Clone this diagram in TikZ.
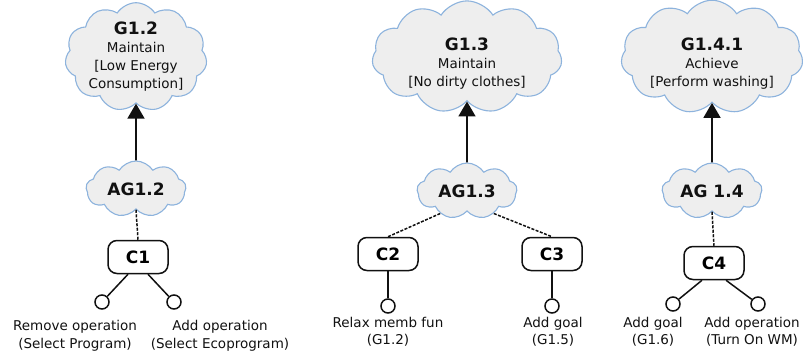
\documentclass[tikz,border=0pt]{standalone}
\usepackage{fontspec}
\setmainfont{DejaVu Sans}
\usepackage{xcolor}
\usepackage{tikz}
\usetikzlibrary{arrows.meta,shapes.symbols}
\definecolor{cloudfill}{HTML}{EEEEEE}
\definecolor{cloudline}{HTML}{8DB3DD}
\definecolor{ink}{HTML}{111111}
\tikzset{
  goal/.style={cloud, cloud puffs=11, cloud puff arc=115, cloud ignores aspect,
    fill=cloudfill, draw=cloudline, line width=1.1pt, align=center, inner sep=0pt,
    text=ink, font=\fontsize{13.5}{18}\selectfont},
  agent/.style={goal, cloud puffs=9, minimum width=100pt, minimum height=56pt,
    font=\fontsize{17}{19}\bfseries},
  ctx/.style={draw=ink, rounded corners=9pt, line width=1.5pt, minimum width=60pt,
    minimum height=33pt, font=\fontsize{17}{19}\bfseries},
  leaf/.style={circle, draw=ink, line width=1.5pt, fill=white, minimum size=14pt, inner sep=0pt},
  lbl/.style={align=center, text=ink, font=\fontsize{13.5}{17.5}\selectfont},
  up/.style={-{Triangle[length=15pt,width=17pt]}, line width=1.8pt, draw=ink},
  link/.style={dash pattern=on 3pt off 1.5pt, line width=1.5pt, draw=ink},
  wire/.style={line width=1.5pt, draw=ink}
}
\newcommand{\gl}[2][25pt]{{\fontsize{17}{20}\bfseries\rule{0pt}{#1}#2}\\}

\begin{document}
\begin{tikzpicture}[x=1pt,y=-1pt]
  \useasboundingbox (0,0) rectangle (803,353);

  % goals
  \node[goal, minimum width=142pt, minimum height=100pt, inner sep=-2pt] (g12) at (136,57)
    {\gl[0pt]{G1.2}Maintain\\{[Low Energy}\\Consumption]};
  \node[goal, minimum width=190pt, minimum height=100pt] (g13) at (467,57)
    {\gl{G1.3}Maintain\\{[No dirty clothes]}};
  \node[goal, minimum width=182pt, minimum height=106pt] (g141) at (712,57)
    {\gl{G1.4.1}Achieve\\{[Perform washing]}};

  % agents
  \node[agent] (ag12) at (136,189) {AG1.2};
  \node[agent] (ag13) at (467,191) {AG1.3};
  \node[agent] (ag14) at (712,191) {AG 1.4};

  \draw[up] (ag12.north) -- (g12.south);
  \draw[up] (ag13.north) -- (g13.south);
  \draw[up] (ag14.north) -- (g141.south);

  % contributions
  \node[ctx] (c1) at (138,257) {C1};
  \node[ctx] (c2) at (388,254) {C2};
  \node[ctx] (c3) at (552,254) {C3};
  \node[ctx] (c4) at (714,263) {C4};

  \draw[link] (ag12.south) -- (c1.north);
  \draw[link] (ag13.220) -- (c2.north);
  \draw[link] (ag13.-40) -- (c3.north);
  \draw[link] (ag14.south) -- (c4.north);

  % operations
  \node[leaf] (o1) at (102,302) {};
  \node[leaf] (o2) at (174,302) {};
  \node[leaf] (o3) at (388,306) {};
  \node[leaf] (o4) at (552,306) {};
  \node[leaf] (o5) at (673,304) {};
  \node[leaf] (o6) at (758,304) {};

  \draw[wire] (c1.south) ++(-10,0) coordinate (c1l) (c1l) -- (o1);
  \draw[wire] (c1.south) ++(10,0) coordinate (c1r) (c1r) -- (o2);
  \draw[wire] (c2.south) -- (o3.north);
  \draw[wire] (c3.south) -- (o4.north);
  \draw[wire] (c4.south) ++(-12,0) coordinate (c4l) (c4l) -- (o5);
  \draw[wire] (c4.south) ++(12,0) coordinate (c4r) (c4r) -- (o6);

  \node[lbl] (t1) at (75,336) {Remove operation\\(Select Program)};
  \node[lbl] (t2) at (220,336) {Add operation\\(Select Ecoprogram)};
  \node[lbl] (t3) at (388,332) {Relax memb fun\\(G1.2)};
  \node[lbl] (t4) at (553,332) {Add goal\\(G1.5)};
  \node[lbl] (t5) at (653,332) {Add goal\\(G1.6)};
  \node[lbl] (t6) at (752,332) {Add operation\\(Turn On WM)};
\end{tikzpicture}
\end{document}
